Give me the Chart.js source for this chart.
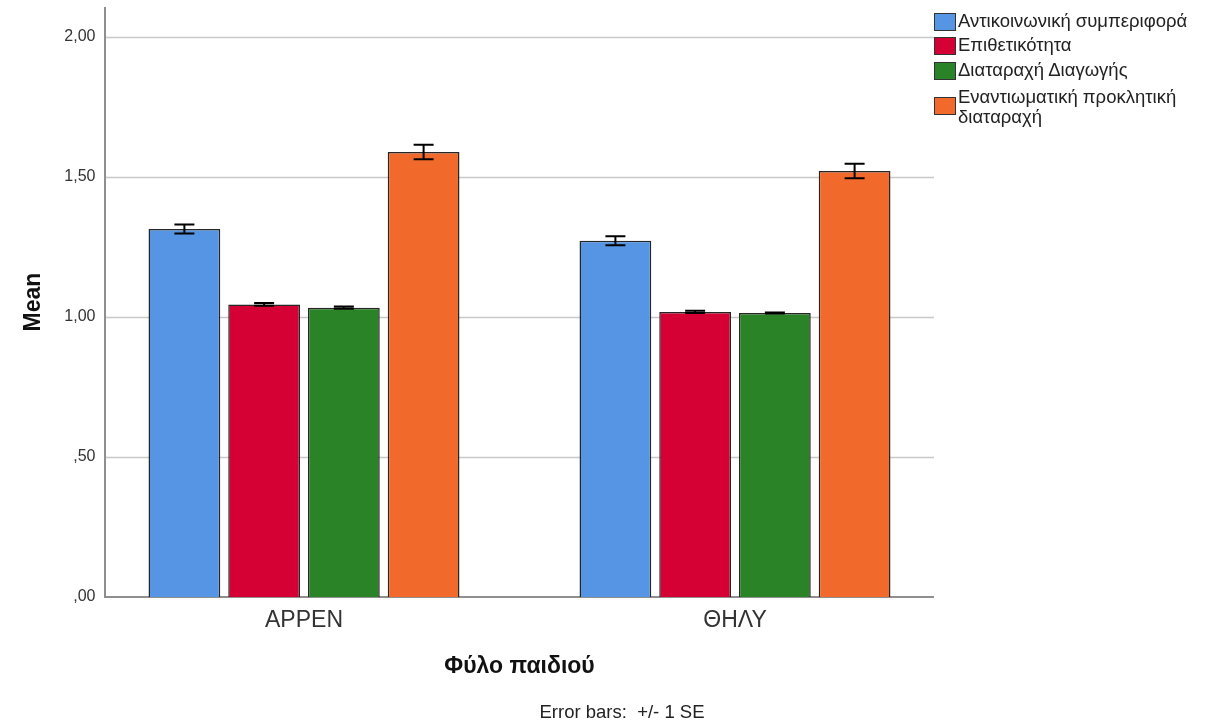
<!DOCTYPE html>
<html>
<head>
<meta charset="utf-8">
<script src="https://cdn.jsdelivr.net/npm/chart.js@4"></script>
<style>
  html, body { margin: 0; padding: 0; background: #fff; }
  #wrap { position: relative; width: 1210px; height: 723px; }
  canvas { position: absolute; left: 0; top: 0; }
  .lg { position: absolute; font-family: "Liberation Sans", Arial, sans-serif; font-size: 18.5px; color: #222; line-height: 20px; white-space: nowrap; }
  .sw { position: absolute; width: 20px; height: 16px; border: 1px solid #333; }
</style>
</head>
<body>
<div id="wrap">
  <canvas id="c" width="1210" height="723"></canvas>
  <div id="legend"></div>
</div>
<script>
// ---- data ----
const categories = ['ΑΡΡΕΝ', 'ΘΗΛΥ'];
const seriesNames = ['Αντικοινωνική συμπεριφορά', 'Επιθετικότητα', 'Διαταραχή Διαγωγής', 'Εναντιωματική προκλητική διαταραχή'];
const antisocialMean = [1.314, 1.272];
const aggressionMean = [1.045, 1.018];
const conductMean = [1.033, 1.014];
const oddMean = [1.589, 1.521];
const antisocialSE = [0.016, 0.016];
const aggressionSE = [0.005, 0.004];
const conductSE = [0.004, 0.002];
const oddSE = [0.026, 0.026];
const yTicks = [0, 0.5, 1.0, 1.5, 2.0];
const yTickLabels = [',00', ',50', '1,00', '1,50', '2,00'];
const seriesColors = ['#5595e3', '#d50033', '#2a8326', '#f26a2b'];

const FONT = '"Liberation Sans", Arial, sans-serif';
const means = [antisocialMean, aggressionMean, conductMean, oddMean];
const ses = [antisocialSE, aggressionSE, conductSE, oddSE];

// plot frame (axis lines / grid span)
const frameLeft = 105, frameRight = 934;
const yAxisWidth = 88.5;

// measure widest y label so mirrored right-aligned labels end at x ≈ 95.5
const mctx = document.createElement('canvas').getContext('2d');
mctx.font = '16px ' + FONT;
const widestY = Math.max(...yTickLabels.map(s => mctx.measureText(s).width));
const yLabelPad = (95.5 - yAxisWidth) - widestY;

const framePlugin = {
  id: 'frame',
  beforeDatasetsDraw(chart) {
    const ctx = chart.ctx, y = chart.scales.y, top = chart.chartArea.top, bottom = chart.chartArea.bottom;
    ctx.save();
    ctx.strokeStyle = '#c8c8c8';
    ctx.lineWidth = 1.5;
    yTicks.forEach(v => {
      if (v === 0) return;
      const py = Math.round(y.getPixelForValue(v)) + 0.5;
      ctx.beginPath(); ctx.moveTo(frameLeft, py); ctx.lineTo(frameRight, py); ctx.stroke();
    });
    ctx.strokeStyle = '#8f8f8f';
    ctx.lineWidth = 2;
    ctx.beginPath();
    ctx.moveTo(frameLeft, top); ctx.lineTo(frameLeft, bottom); ctx.lineTo(frameRight, bottom);
    ctx.stroke();
    ctx.restore();
  },
  afterDatasetsDraw(chart) {
    const ctx = chart.ctx, y = chart.scales.y;
    ctx.save();
    ctx.strokeStyle = '#000';
    ctx.lineWidth = 2;
    chart.data.datasets.forEach((ds, di) => {
      const meta = chart.getDatasetMeta(di);
      meta.data.forEach((bar, i) => {
        const m = means[di][i], s = ses[di][i];
        const yHi = y.getPixelForValue(m + s), yLo = y.getPixelForValue(m - s);
        const x = bar.x, hw = 10;
        ctx.beginPath();
        ctx.moveTo(x, yHi); ctx.lineTo(x, yLo);
        ctx.moveTo(x - hw, yHi); ctx.lineTo(x + hw, yHi);
        ctx.moveTo(x - hw, yLo); ctx.lineTo(x + hw, yLo);
        ctx.stroke();
      });
    });
    ctx.fillStyle = '#222';
    ctx.font = '18.5px ' + FONT;
    ctx.textAlign = 'center';
    ctx.textBaseline = 'middle';
    ctx.fillText('Error bars:  +/- 1 SE', 622, 713);
    ctx.restore();
  }
};

const chart = new Chart(document.getElementById('c'), {
  type: 'bar',
  data: {
    labels: categories,
    datasets: seriesNames.map((n, i) => ({
      label: n,
      data: means[i],
      backgroundColor: seriesColors[i],
      borderColor: '#262626',
      borderWidth: 1.5,
      barPercentage: 0.9,
      categoryPercentage: 0.74
    }))
  },
  options: {
    responsive: false,
    animation: false,
    events: [],
    layout: { padding: { top: 7, right: 259.5, left: 0, bottom: 0 } },
    plugins: { legend: { display: false }, tooltip: { enabled: false } },
    scales: {
      x: {
        grid: { display: false, drawTicks: false },
        border: { display: false },
        ticks: { color: '#333', font: { family: FONT, size: 23 }, padding: 10 },
        title: { display: true, text: 'Φύλο παιδιού', color: '#111', font: { family: FONT, size: 23, weight: 'bold' }, padding: { top: 0, bottom: 43 } },
        afterFit(s) { s.height = 126; }
      },
      y: {
        min: 0, max: 2.107,
        grid: { display: false, drawTicks: false },
        border: { display: false },
        afterBuildTicks(s) { s.ticks = yTicks.map(v => ({ value: v })); },
        afterTickToLabelConversion(s) {
          s.ticks.forEach(t => { const k = yTicks.indexOf(t.value); t.label = k >= 0 ? yTickLabels[k] : ''; });
        },
        ticks: { color: '#333', font: { family: FONT, size: 16 }, mirror: true, crossAlign: 'far', padding: yLabelPad },
        title: { display: true, text: 'Mean', color: '#111', font: { family: FONT, size: 23, weight: 'bold' }, padding: { top: 20, bottom: 0 } },
        afterFit(s) { s.width = yAxisWidth; }
      }
    }
  },
  plugins: [framePlugin]
});

// HTML legend
const legendPos = [
  { box: 13, text: 11 },
  { box: 37, text: 35 },
  { box: 62, text: 60 },
  { box: 97, text: 87 }
];
const lg = document.getElementById('legend');
seriesNames.forEach((n, i) => {
  const sw = document.createElement('div');
  sw.className = 'sw';
  sw.style.left = '934px';
  sw.style.top = legendPos[i].box + 'px';
  sw.style.background = seriesColors[i];
  lg.appendChild(sw);
  const t = document.createElement('div');
  t.className = 'lg';
  t.style.left = '958px';
  t.style.top = legendPos[i].text + 'px';
  t.innerHTML = i === 3 ? 'Εναντιωματική προκλητική<br>διαταραχή' : n;
  lg.appendChild(t);
});
</script>
</body>
</html>
